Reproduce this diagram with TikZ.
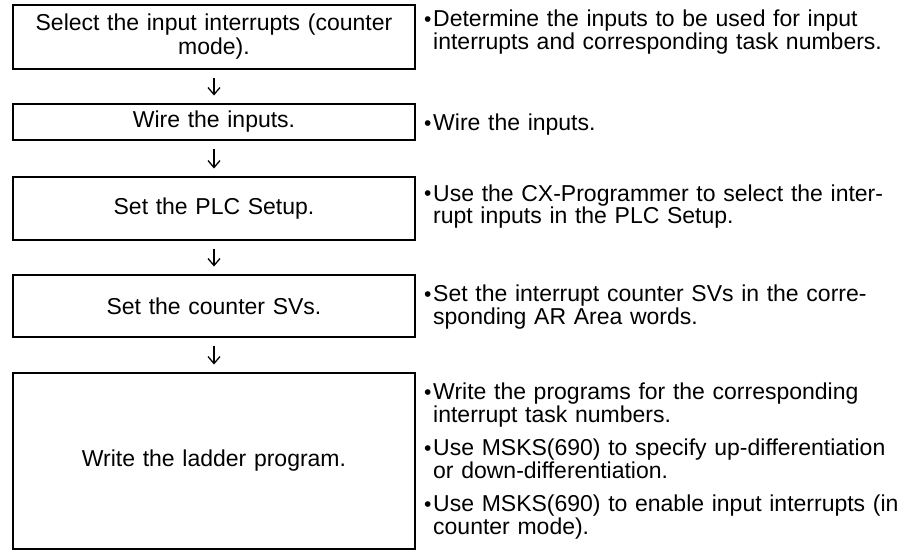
\documentclass[tikz,border=0pt]{standalone}
\usepackage{fontspec}
\setmainfont{Liberation Sans}
\usetikzlibrary{positioning,arrows.meta}
\newcommand{\bul}{\makebox[9pt][l]{\raisebox{0.5pt}{\fontsize{21}{21}\selectfont\textbullet}}}
\newcommand{\itm}[1]{\par\hangindent=9pt\hangafter=1\noindent\bul#1\par}
\newcommand{\itmsep}{\vspace{11pt}}

\begin{document}
\begin{tikzpicture}[x=1pt,y=-1pt,
  stepbox/.style={draw,line width=2pt,minimum width=402pt,inner sep=0pt,
    text width=380pt,align=center,font=\fontsize{23}{24}\selectfont},
  note/.style={inner sep=0pt,text width=490pt,align=left,
    font=\fontsize{23}{22.5}\selectfont},
  flow/.style={-{Straight Barb[length=7pt,width=12pt]},line width=1.3pt,
    shorten <=7.5pt,shorten >=7.5pt}]
  \useasboundingbox (0,0) rectangle (922,552);
  % steps on the left
  \node[stepbox,minimum height=64pt] (s1) at (214,37) {Select the input interrupts (counter\\mode).};
  \node[stepbox,minimum height=36pt] (s2) at (214,122) {Wire the inputs.};
  \node[stepbox,minimum height=63pt] (s3) at (214,208.5) {Set the PLC Setup.};
  \node[stepbox,minimum height=62pt] (s4) at (214,306) {Set the counter SVs.};
  \node[stepbox,minimum height=176pt] (s5) at (214,461) {Write the ladder program.};
  % arrows between steps
  \draw[flow] (s1) -- (s2);
  \draw[flow] (s2) -- (s3);
  \draw[flow] (s3) -- (s4);
  \draw[flow] (s4) -- (s5);
  % notes on the right
  \node[note,right=8pt of s1,yshift=8pt] (n1) {\itm{Determine the inputs to be used for input\newline interrupts and corresponding task numbers.}};
  \node[note,right=8pt of s2] (n2) {\itm{Wire the inputs.}};
  \node[note,right=8pt of s3,yshift=5pt] (n3) {\itm{Use the CX-Programmer to select the inter-\newline rupt inputs in the PLC Setup.}};
  \node[note,right=8pt of s4,yshift=2pt] (n4) {\itm{Set the interrupt counter SVs in the corre-\newline sponding AR Area words.}};
  \node[note,right=8pt of s5,yshift=3pt] (n5) {\itm{Write the programs for the corresponding\newline interrupt task numbers.}\itmsep
    \itm{Use MSKS(690) to specify up-differentiation\newline or down-differentiation.}\itmsep
    \itm{Use MSKS(690) to enable input interrupts (in\newline counter mode).}};
\end{tikzpicture}
\end{document}
